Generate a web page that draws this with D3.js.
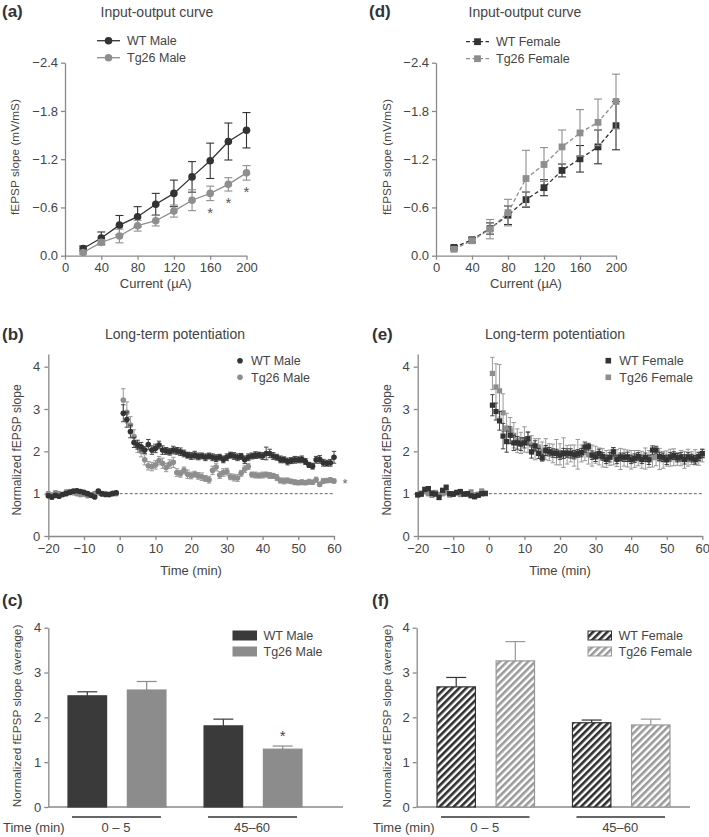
<!DOCTYPE html>
<html><head><meta charset="utf-8">
<script src="https://cdn.jsdelivr.net/npm/d3@7"></script>
<style>
body{margin:0;background:#fff;}
svg{display:block;font-family:"Liberation Sans",Arial,sans-serif;}
</style></head><body>
<svg id="chart" width="709" height="837"></svg>
<script>
// ---------- DATA ----------
const ioCurrents = [20,40,60,80,100,120,140,160,180,200];
const ioWTMale      = [0.09,0.22,0.38,0.485,0.64,0.775,0.98,1.18,1.42,1.56];
const ioWTMaleSem   = [0.03,0.075,0.12,0.125,0.135,0.165,0.19,0.22,0.23,0.22];
const ioTgMale      = [0.04,0.166,0.245,0.373,0.435,0.555,0.69,0.775,0.887,1.03];
const ioTgMaleSem   = [0.02,0.035,0.085,0.067,0.065,0.075,0.13,0.09,0.083,0.09];
const ioWTFemale    = [0.103,0.198,0.338,0.503,0.697,0.846,1.06,1.205,1.353,1.617];
const ioWTFemaleSem = [0.02,0.03,0.07,0.115,0.095,0.1,0.08,0.165,0.21,0.3];
const ioTgFemale    = [0.08,0.186,0.33,0.536,0.96,1.134,1.353,1.527,1.658,1.918];
const ioTgFemaleSem = [0.02,0.03,0.12,0.165,0.35,0.21,0.21,0.29,0.29,0.34];
const ioSigCurrents = [160,180,200];
const ioYTicks = [0,0.6,1.2,1.8,2.4];
const ioXTicks = [0,40,80,120,160,200];

const ltpBaselineTimes = d3.range(-20,0);
const ltpPostTimes = d3.range(1,61);
const ltpXTicks = [-20,-10,0,10,20,30,40,50,60];
const ltpYTicks = [0,1,2,3,4];

const ltpWTMaleBase = [0.95,0.92,0.96,0.94,0.98,1.0,1.03,1.06,1.07,1.05,1.03,1.0,0.96,0.92,1.06,1.0,0.98,0.98,1.0,1.02];
const ltpWTMalePost = [2.90,2.75,2.47,2.21,2.15,2.11,2.03,2.16,2.03,2.07,2.15,2.03,2.01,1.99,2.03,2.01,1.99,1.95,1.91,1.89,
  1.91,1.88,1.89,1.86,1.89,1.86,1.84,1.86,1.81,1.86,1.91,1.89,1.86,1.88,1.80,1.86,1.89,1.91,1.91,1.89,
  1.95,1.95,1.89,1.86,1.81,1.80,1.76,1.78,1.80,1.80,1.81,1.76,1.68,1.65,1.80,1.81,1.73,1.72,1.73,1.86];
const ltpWTMaleBaseSem = [0.04,0.05,0.04,0.04,0.03,0.04,0.04,0.03,0.04,0.04,0.03,0.04,0.04,0.03,0.04,0.04,0.03,0.04,0.03,0.04];
const ltpWTMalePostSem = [0.2,0.18,0.15,0.12,0.1,0.1,0.08,0.12,0.1,0.1,0.09,0.1,0.08,0.08,0.09,0.08,0.09,0.08,0.07,0.08,
  0.09,0.08,0.07,0.08,0.07,0.08,0.08,0.07,0.08,0.08,0.07,0.08,0.08,0.07,0.09,0.08,0.07,0.08,0.07,0.08,
  0.15,0.1,0.08,0.07,0.08,0.07,0.08,0.07,0.08,0.07,0.08,0.07,0.06,0.07,0.08,0.09,0.08,0.07,0.08,0.14];
const ltpTgMaleBase = [1.0,0.97,1.02,1.0,0.98,1.04,1.05,1.02,1.0,0.98,0.99,0.95,0.97,1.0,1.02,0.99,1.0,0.98,1.01,1.0];
const ltpTgMalePost = [3.21,2.92,2.62,2.35,2.12,2.0,1.80,1.66,1.64,1.68,1.78,1.72,1.62,1.70,1.74,1.50,1.47,1.55,1.46,1.43,
  1.46,1.42,1.40,1.36,1.33,1.55,1.63,1.44,1.50,1.52,1.40,1.38,1.37,1.48,1.58,1.64,1.45,1.44,1.43,1.44,
  1.45,1.43,1.42,1.38,1.31,1.30,1.31,1.29,1.27,1.26,1.27,1.26,1.28,1.27,1.33,1.22,1.30,1.31,1.32,1.30];
const ltpTgMaleBaseSem = [0.04,0.04,0.05,0.04,0.04,0.05,0.04,0.04,0.04,0.05,0.04,0.04,0.04,0.05,0.04,0.04,0.04,0.05,0.04,0.04];
const ltpTgMalePostSem = [0.27,0.25,0.2,0.16,0.15,0.13,0.12,0.1,0.1,0.1,0.1,0.12,0.1,0.1,0.12,0.09,0.08,0.08,0.1,0.08,
  0.07,0.08,0.09,0.07,0.08,0.1,0.09,0.08,0.09,0.08,0.07,0.08,0.08,0.07,0.08,0.07,0.06,0.07,0.06,0.07,
  0.06,0.07,0.06,0.07,0.06,0.07,0.06,0.05,0.06,0.05,0.06,0.05,0.06,0.05,0.06,0.05,0.06,0.05,0.06,0.05];

const ltpWTFemaleBase = [0.97,0.99,1.10,1.12,1.01,0.99,0.91,1.08,1.15,1.0,0.99,1.03,1.05,0.99,1.0,0.95,0.93,0.96,1.0,1.01];
const ltpWTFemalePost = [3.09,2.94,2.72,2.36,2.23,2.38,2.2,2.2,2.17,2.2,2.3,1.99,2.13,1.95,1.85,2.02,1.99,1.96,1.95,1.91,
  1.95,1.96,1.95,1.92,1.95,1.97,2.10,2.11,1.91,1.87,1.95,1.88,1.81,1.86,1.99,1.81,1.87,1.86,1.87,1.81,
  1.84,1.88,1.81,1.86,1.80,2.03,2.03,1.88,1.86,1.80,1.87,1.90,1.85,1.87,1.81,1.87,1.84,1.80,1.88,1.95];
const ltpWTFemaleBaseSem = [0.04,0.05,0.05,0.04,0.05,0.04,0.05,0.04,0.05,0.04,0.05,0.04,0.05,0.04,0.05,0.04,0.05,0.04,0.05,0.04];
const ltpWTFemalePostSem = [0.25,0.2,0.22,0.3,0.25,0.2,0.18,0.15,0.15,0.12,0.15,0.15,0.12,0.12,0.08,0.12,0.1,0.1,0.1,0.1,
  0.12,0.1,0.11,0.1,0.09,0.1,0.12,0.08,0.1,0.11,0.1,0.09,0.1,0.11,0.1,0.1,0.09,0.1,0.11,0.1,
  0.1,0.09,0.1,0.1,0.11,0.1,0.09,0.1,0.1,0.11,0.1,0.09,0.1,0.1,0.11,0.1,0.09,0.1,0.1,0.1];
const ltpTgFemaleBase = [0.98,1.01,1.05,1.0,0.96,1.02,0.98,1.0,1.03,0.97,1.0,1.02,0.98,1.0,0.99,1.04,0.97,0.98,1.06,1.0];
const ltpTgFemalePost = [3.84,3.52,3.43,2.91,2.55,2.50,2.38,2.25,2.20,2.28,2.22,2.15,2.05,2.10,2.00,2.05,1.98,1.95,1.98,1.93,
  1.97,1.92,1.95,1.90,1.93,1.95,1.98,1.92,1.90,1.92,1.88,1.85,1.82,1.85,1.88,1.84,1.82,1.85,1.83,1.80,
  1.82,1.84,1.80,1.83,1.82,1.85,1.86,1.82,1.80,1.83,1.85,1.86,1.82,1.84,1.80,1.85,1.84,1.86,1.82,1.90];
const ltpTgFemaleBaseSem = [0.05,0.05,0.06,0.05,0.05,0.06,0.05,0.05,0.06,0.05,0.05,0.06,0.05,0.05,0.06,0.05,0.05,0.06,0.05,0.05];
const ltpTgFemalePostSem = [0.38,0.55,0.62,0.45,0.35,0.3,0.3,0.28,0.25,0.3,0.25,0.22,0.25,0.2,0.22,0.25,0.2,0.22,0.3,0.25,
  0.35,0.22,0.2,0.25,0.35,0.2,0.2,0.22,0.25,0.2,0.2,0.22,0.2,0.18,0.2,0.2,0.25,0.2,0.2,0.22,
  0.2,0.18,0.2,0.25,0.2,0.22,0.2,0.25,0.2,0.18,0.2,0.2,0.15,0.18,0.2,0.2,0.15,0.18,0.15,0.15];

const barGroups = ["0 – 5","45–60"];
const barWTMale = [2.48,1.81];
const barWTMaleSem = [0.09,0.15];
const barTgMale = [2.61,1.29];
const barTgMaleSem = [0.19,0.07];
const barWTFemale = [2.68,1.88];
const barWTFemaleSem = [0.21,0.06];
const barTgFemale = [3.26,1.83];
const barTgFemaleSem = [0.43,0.13];
const barSig = [{group:1, series:1}];
const barYTicks = [0,1,2,3,4];

// ---------- STYLE ----------
const DARK = "#333333", GRAY = "#8e8e8e", AXIS = "#8a8a8a", TXT = "#444";
const FONT = "'Liberation Sans', Arial, sans-serif";
const TICK = 13;
const svg = d3.select("#chart");
const defs = svg.append("defs");
function hatch(id, color){
  const p = defs.append("pattern").attr("id", id).attr("patternUnits","userSpaceOnUse")
    .attr("width",5).attr("height",5).attr("patternTransform","rotate(45)");
  p.append("rect").attr("width",5).attr("height",5).attr("fill","#fff");
  p.append("rect").attr("x",0).attr("y",0).attr("width",2.6).attr("height",5).attr("fill",color);
}
hatch("hatchDark", "#2e2e2e");
hatch("hatchGray", "#9a9a9a");

function styleAxis(g){
  g.select(".domain").attr("stroke",AXIS).attr("stroke-width",1.3);
  g.selectAll(".tick line").attr("stroke",AXIS).attr("stroke-width",1.3);
  g.selectAll(".tick text").attr("fill",TXT).attr("font-size",TICK).attr("font-family",FONT);
}
function text(x,y,s,opts={}){
  const t = svg.append("text").attr("x",x).attr("y",y).text(s)
    .attr("fill",opts.fill||TXT).attr("font-size",opts.size||13)
    .attr("font-family",FONT).attr("text-anchor",opts.anchor||"start");
  if(opts.bold) t.attr("font-weight","bold");
  if(opts.rotate) t.attr("transform",`rotate(-90,${x},${y})`);
  return t;
}
const minusFmt = d => d < 0 ? "\u2212" + Math.abs(d) : String(d);
const intFmt = d => String(d);
const ioFmt = d => d === 0 ? "0.0" : "\u2212" + d.toFixed(1);

function errorBars(g, pts, xf, yf, color, capHalf, sw, both){
  pts.forEach(d=>{
    const cx = xf(d), yt = yf(d.v + d.e), yb = both ? yf(d.v - d.e) : yf(d.v);
    g.append("line").attr("x1",cx).attr("x2",cx).attr("y1",yb).attr("y2",yt).attr("stroke",color).attr("stroke-width",sw);
    g.append("line").attr("x1",cx-capHalf).attr("x2",cx+capHalf).attr("y1",yt).attr("y2",yt).attr("stroke",color).attr("stroke-width",sw);
    if(both) g.append("line").attr("x1",cx-capHalf).attr("x2",cx+capHalf).attr("y1",yb).attr("y2",yb).attr("stroke",color).attr("stroke-width",sw);
  });
}

// ---------- PANEL LABELS & TITLES ----------
text(2,17,"(a)",{bold:true,size:17,fill:"#333"});
text(369,17,"(d)",{bold:true,size:17,fill:"#333"});
text(2,340,"(b)",{bold:true,size:17,fill:"#333"});
text(372,340,"(e)",{bold:true,size:17,fill:"#333"});
text(2,606,"(c)",{bold:true,size:17,fill:"#333"});
text(372,606,"(f)",{bold:true,size:17,fill:"#333"});
text(157,17,"Input-output curve",{anchor:"middle",size:14});
text(525,17,"Input-output curve",{anchor:"middle",size:14});
text(175,339,"Long-term potentiation",{anchor:"middle",size:14});
text(555,339,"Long-term potentiation",{anchor:"middle",size:14});

// ---------- INPUT-OUTPUT PANELS ----------
function ioPanel(cfg){
  const x = d3.scaleLinear().domain([0,200]).range([cfg.x0, cfg.x1]);
  const y = d3.scaleLinear().domain([0,2.4]).range([255.7, 62.7]);
  svg.append("g").attr("transform",`translate(0,${y(0)})`)
    .call(d3.axisBottom(x).tickValues(ioXTicks).tickSize(4).tickSizeOuter(0).tickPadding(3)).call(styleAxis);
  svg.append("g").attr("transform",`translate(${x(0)},0)`)
    .call(d3.axisLeft(y).tickValues(ioYTicks).tickFormat(ioFmt).tickSize(4).tickSizeOuter(0).tickPadding(3)).call(styleAxis);
  text((cfg.x0+cfg.x1)/2, 288, "Current (\u00b5A)", {anchor:"middle"});
  text(cfg.ylabX, 157, "fEPSP slope (mV/mS)", {anchor:"middle", rotate:true, size:11.8});
  cfg.series.forEach(s => {
    const pts = ioCurrents.map((c,i)=>({x:c, v:s.values[i], e:s.sem[i]}));
    const g = svg.append("g");
    errorBars(g, pts, d=>x(d.x), y, s.color, 4, 1.1, true);
    g.append("path").datum(pts).attr("d", d3.line().x(d=>x(d.x)).y(d=>y(d.v)))
      .attr("fill","none").attr("stroke",s.color).attr("stroke-width",1.3)
      .attr("stroke-dasharray", cfg.dashed ? "4,2.5" : null);
    if(cfg.square){
      g.selectAll(null).data(pts).enter().append("rect")
        .attr("x",d=>x(d.x)-3.4).attr("y",d=>y(d.v)-3.4).attr("width",6.8).attr("height",6.8).attr("fill",s.color);
    } else {
      g.selectAll(null).data(pts).enter().append("circle")
        .attr("cx",d=>x(d.x)).attr("cy",d=>y(d.v)).attr("r",3.8).attr("fill",s.color);
    }
  });
  cfg.series.forEach((s,i)=>{
    const ly = cfg.legY + i*17;
    svg.append("line").attr("x1",cfg.legX).attr("x2",cfg.legX+23).attr("y1",ly).attr("y2",ly)
      .attr("stroke",s.color).attr("stroke-width",1.3).attr("stroke-dasharray",cfg.dashed?"4,2.5":null);
    if(cfg.square) svg.append("rect").attr("x",cfg.legX+11.5-3.4).attr("y",ly-3.4).attr("width",6.8).attr("height",6.8).attr("fill",s.color);
    else svg.append("circle").attr("cx",cfg.legX+11.5).attr("cy",ly).attr("r",3.8).attr("fill",s.color);
    text(cfg.legX+30, ly+4.5, s.name, {size:12.5});
  });
  return {x,y};
}
const ioA = ioPanel({x0:65, x1:246.5, ylabX:19, legX:97, legY:40.7, dashed:false, square:false,
  series:[{name:"WT Male",values:ioWTMale,sem:ioWTMaleSem,color:DARK},
          {name:"Tg26 Male",values:ioTgMale,sem:ioTgMaleSem,color:GRAY}]});
ioSigCurrents.forEach(c=>{
  const i = ioCurrents.indexOf(c);
  text(ioA.x(c), ioA.y(ioTgMale[i]-ioTgMaleSem[i]) + 17, "*", {anchor:"middle", size:15, fill:"#555"});
});
ioPanel({x0:436, x1:616, ylabX:391, legX:466, legY:41.7, dashed:true, square:true,
  series:[{name:"WT Female",values:ioWTFemale,sem:ioWTFemaleSem,color:DARK},
          {name:"Tg26 Female",values:ioTgFemale,sem:ioTgFemaleSem,color:GRAY}]});

// ---------- LTP PANELS ----------
function ltpPanel(cfg){
  const x = d3.scaleLinear().domain([-20,60]).range([cfg.x0, cfg.x1]);
  const y = d3.scaleLinear().domain([0,4.3]).range([536, 536-4.3*42.33]);
  svg.append("g").attr("transform",`translate(0,${y(0)})`)
    .call(d3.axisBottom(x).tickValues(ltpXTicks).tickFormat(minusFmt).tickSize(4).tickSizeOuter(0).tickPadding(4)).call(styleAxis);
  svg.append("g").attr("transform",`translate(${x(-20)},0)`)
    .call(d3.axisLeft(y).tickValues(ltpYTicks).tickFormat(intFmt).tickSize(4).tickSizeOuter(0).tickPadding(4)).call(styleAxis);
  svg.append("line").attr("x1",x(0)).attr("x2",x(60)).attr("y1",y(1)).attr("y2",y(1))
    .attr("stroke","#666").attr("stroke-width",1).attr("stroke-dasharray","3,2");
  text((cfg.x0+cfg.x1)/2, 575, "Time (min)", {anchor:"middle"});
  text(cfg.ylabX, 450, "Normalized fEPSP slope", {anchor:"middle", rotate:true, size:12});
  cfg.series.forEach(s=>{
    const times = ltpBaselineTimes.concat(ltpPostTimes);
    const vals = s.base.concat(s.post), sems = s.baseSem.concat(s.postSem);
    const pts = times.map((t,i)=>({t, v:vals[i], e:sems[i]}));
    const g = svg.append("g");
    errorBars(g, pts, d=>x(d.t), y, s.color, 2.2, 0.9, true);
    if(cfg.square){
      g.selectAll(null).data(pts).enter().append("rect")
        .attr("x",d=>x(d.t)-2.6).attr("y",d=>y(d.v)-2.6).attr("width",5.2).attr("height",5.2).attr("fill",s.color);
    } else {
      g.selectAll(null).data(pts).enter().append("circle")
        .attr("cx",d=>x(d.t)).attr("cy",d=>y(d.v)).attr("r",2.8).attr("fill",s.color);
    }
  });
  cfg.legend.forEach((s,i)=>{
    const ly = 360.7 + i*16.6;
    if(cfg.square) svg.append("rect").attr("x",cfg.legX-2.8).attr("y",ly-2.8).attr("width",5.6).attr("height",5.6).attr("fill",s.color);
    else svg.append("circle").attr("cx",cfg.legX).attr("cy",ly).attr("r",2.8).attr("fill",s.color);
    text(cfg.legX+11, ly+4.5, s.name, {size:12.5});
  });
  return {x,y};
}
const tgMaleS = {name:"Tg26 Male", base:ltpTgMaleBase, post:ltpTgMalePost, baseSem:ltpTgMaleBaseSem, postSem:ltpTgMalePostSem, color:GRAY};
const wtMaleS = {name:"WT Male", base:ltpWTMaleBase, post:ltpWTMalePost, baseSem:ltpWTMaleBaseSem, postSem:ltpWTMalePostSem, color:DARK};
const ltpB = ltpPanel({x0:48.3, x1:334, ylabX:21, legX:240, square:false,
  series:[tgMaleS, wtMaleS], legend:[wtMaleS, tgMaleS]});
text(ltpB.x(60)+11, ltpB.y(ltpTgMalePost[59])+7, "*", {anchor:"middle", size:13, fill:"#666"});
const tgFemS = {name:"Tg26 Female", base:ltpTgFemaleBase, post:ltpTgFemalePost, baseSem:ltpTgFemaleBaseSem, postSem:ltpTgFemalePostSem, color:GRAY};
const wtFemS = {name:"WT Female", base:ltpWTFemaleBase, post:ltpWTFemalePost, baseSem:ltpWTFemaleBaseSem, postSem:ltpWTFemalePostSem, color:DARK};
ltpPanel({x0:417.7, x1:702.3, ylabX:391, legX:608.3, square:true,
  series:[tgFemS, wtFemS], legend:[wtFemS, tgFemS]});

// ---------- BAR PANELS ----------
function barPanel(cfg){
  const y = d3.scaleLinear().domain([0,4]).range([807, 627.7]);
  const gx = d3.scaleBand().domain(barGroups).range([cfg.b0, cfg.b1]).paddingInner(0.28);
  const sx = d3.scaleBand().domain([0,1]).range([0, gx.bandwidth()]).paddingInner(0.35);
  svg.append("g").attr("transform",`translate(${cfg.axX},0)`)
    .call(d3.axisLeft(y).tickValues(barYTicks).tickFormat(intFmt).tickSize(4).tickSizeOuter(0).tickPadding(3)).call(styleAxis);
  svg.append("line").attr("x1",cfg.axX).attr("x2",cfg.axEnd).attr("y1",y(0)).attr("y2",y(0))
    .attr("stroke",AXIS).attr("stroke-width",1.3);
  text(cfg.ylabX, 716, "Normalized fEPSP slope (average)", {anchor:"middle", rotate:true, size:11.8});
  cfg.series.forEach((s,si)=>{
    barGroups.forEach((grp,gi)=>{
      const bx = gx(grp) + sx(si), bw = sx.bandwidth();
      const v = s.values[gi], e = s.sem[gi];
      const g = svg.append("g");
      errorBars(g, [{v, e}], ()=>bx+bw/2, y, s.stroke, 10, 1.2, false);
      g.append("rect").attr("x",bx).attr("y",y(v)).attr("width",bw).attr("height",y(0)-y(v))
        .attr("fill",s.fill).attr("stroke",s.stroke).attr("stroke-width",1.2);
    });
  });
  barGroups.forEach(grp=>{
    const gx0 = gx(grp), gw = gx.bandwidth();
    svg.append("line").attr("x1",gx0+4).attr("x2",gx0+gw-5).attr("y1",817).attr("y2",817)
      .attr("stroke","#333").attr("stroke-width",1.3);
    text(gx0+gw/2-1, 832, grp, {anchor:"middle"});
  });
  text(cfg.timeX, 832, "Time (min)", {});
  cfg.series.forEach((s,i)=>{
    const ly = 631 + i*16;
    svg.append("rect").attr("x",cfg.legX).attr("y",ly).attr("width",23.5).attr("height",9)
      .attr("fill",s.fill).attr("stroke",s.stroke).attr("stroke-width",1);
    text(cfg.legX+30.5, ly+9, s.name, {size:12.5});
  });
  return {y, gx, sx};
}
const barC = barPanel({axX:48.3, axEnd:343, b0:68, b1:302, ylabX:21, timeX:3, legX:233,
  series:[{name:"WT Male", values:barWTMale, sem:barWTMaleSem, fill:"#3a3a3a", stroke:"#3a3a3a"},
          {name:"Tg26 Male", values:barTgMale, sem:barTgMaleSem, fill:"#8c8c8c", stroke:"#8c8c8c"}]});
barSig.forEach(sg=>{
  const grp = barGroups[sg.group];
  const cx = barC.gx(grp) + barC.sx(sg.series) + barC.sx.bandwidth()/2;
  text(cx, barC.y(barTgMale[sg.group]+barTgMaleSem[sg.group]) - 5, "*", {anchor:"middle", size:15, fill:"#444"});
});
barPanel({axX:416.7, axEnd:690, b0:437, b1:670, ylabX:391, timeX:373, legX:588,
  series:[{name:"WT Female", values:barWTFemale, sem:barWTFemaleSem, fill:"url(#hatchDark)", stroke:"#333"},
          {name:"Tg26 Female", values:barTgFemale, sem:barTgFemaleSem, fill:"url(#hatchGray)", stroke:"#999"}]});
</script>
</body></html>
